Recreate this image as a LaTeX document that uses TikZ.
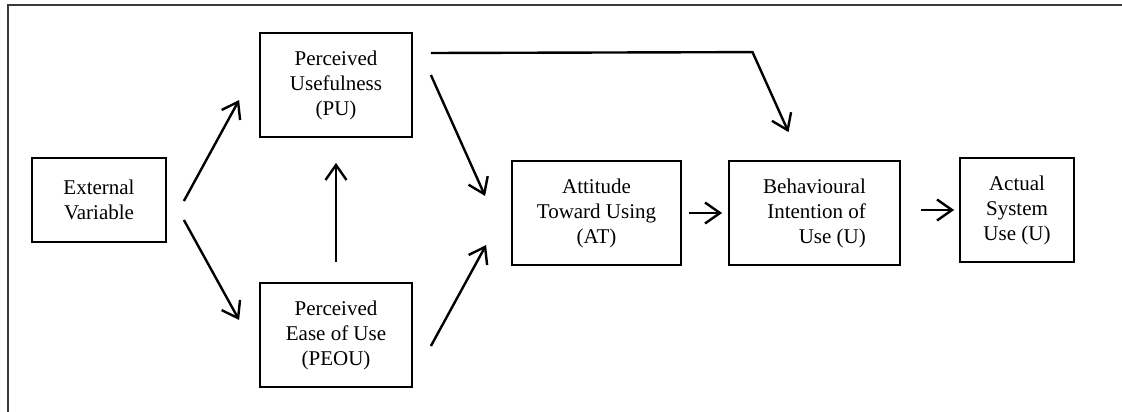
\documentclass[tikz,border=0pt]{standalone}
\usepackage{fontspec}
\setmainfont{Liberation Serif}
\usepackage{tikz}
\usetikzlibrary{calc,arrows.meta,positioning}
\definecolor{framec}{HTML}{3A3A3A}
\tikzset{
  ar/.style={-{Straight Barb[length=15pt,width=21pt]},line width=2.4pt},
  box/.style={draw,line width=1.8pt,align=center,inner sep=2pt,minimum height=104pt,font=\fontsize{21}{25}\selectfont}
}

\begin{document}
\begin{tikzpicture}[x=1pt,y=-1pt]
\useasboundingbox (0,0) rectangle (1122,412);
\draw[framec,line width=2pt] (8,415) -- (8,5) -- (1125,5);
\node[box,minimum width=134pt,minimum height=84pt] (ext) at (99,200) {External\\Variable};
\node[box,minimum width=152pt] (pu) at (336,85) {Perceived\\Usefulness\\(PU)};
\node[box,minimum width=152pt] (peou) at (336,335) {Perceived\\Ease of Use\\(PEOU)};
\node[box,minimum width=169pt] (at) at (596.5,213) {Attitude\\Toward Using\\(AT)};
\node[box,minimum width=171pt,align=right] (bi) at (814.5,213) {Behavioural\\Intention of\\Use (U)};
\node[box,minimum width=114pt] (asu) at (1017,210) {Actual\\System\\Use (U)};
% connectors
\draw[ar] ($(ext.east)+(17,1)$) -- ($(pu.west)+(-20,15)$);
\draw[ar] ($(ext.east)+(17,20)$) -- ($(peou.west)+(-20,-15)$);
\draw[ar] ($(peou.north)+(0,-20)$) -- ($(pu.south)+(0,25)$);
\draw[ar] ($(pu.east)+(18,-10)$) -- ($(at.west)+(-26,-17)$);
\draw[ar] ($(peou.east)+(18,11)$) -- ($(at.west)+(-25,32)$);
\draw[ar] ($(pu.east)+(18,-32)$) -- ($(bi.north)+(-62,-108)$) -- ($(bi.north)+(-26,-28)$);
\draw[ar] ($(at.east)+(7,0)$) -- ($(bi.west)+(-6,0)$);
\draw[ar] ($(bi.east)+(20,-3)$) -- ($(asu.west)+(-5,0)$);
\end{tikzpicture}
\end{document}
